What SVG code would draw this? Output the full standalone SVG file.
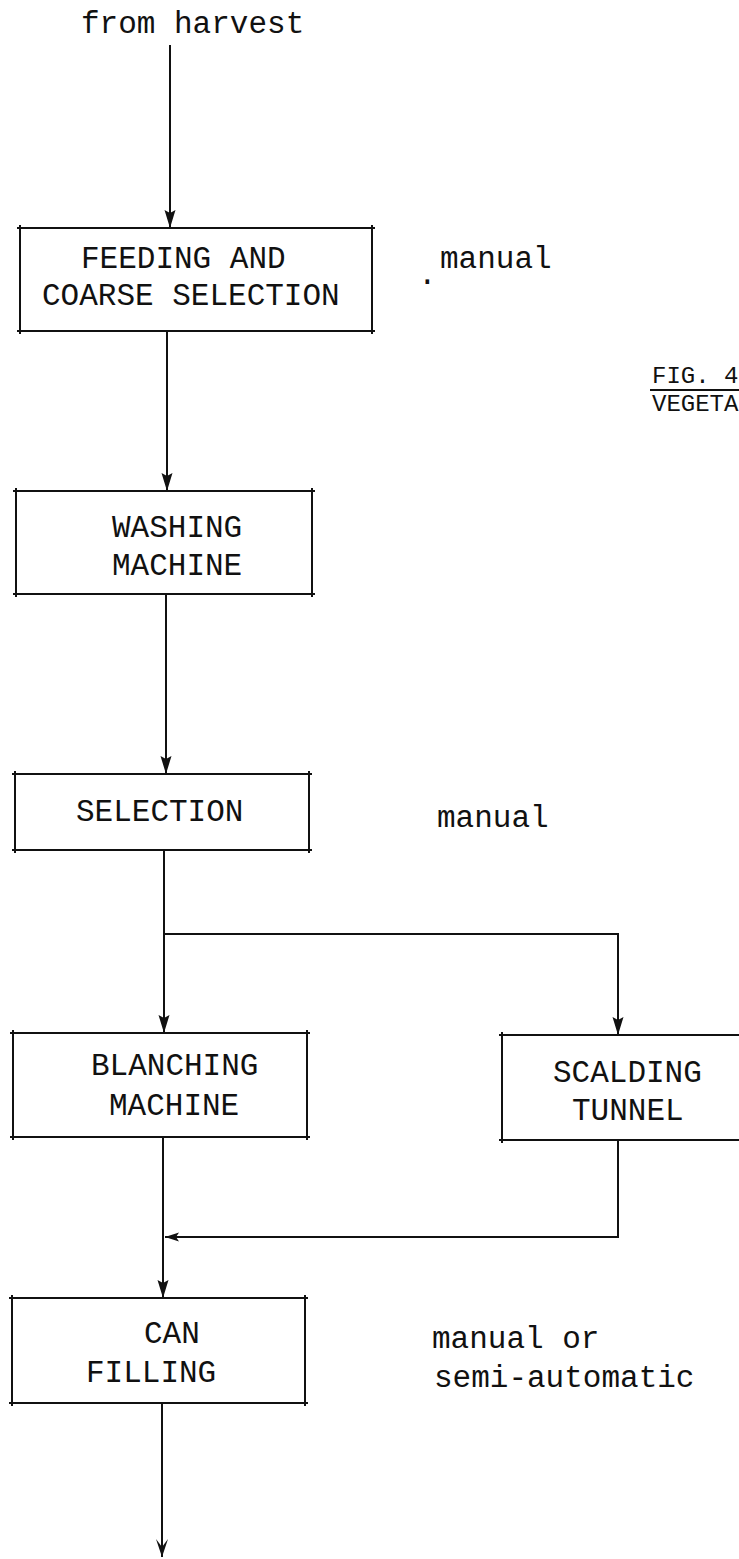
<svg xmlns="http://www.w3.org/2000/svg" width="739" height="1559" viewBox="0 0 739 1559">
<style>
text{font-family:"Liberation Mono","DejaVu Sans Mono",monospace;font-size:31px;fill:#111}
.fig{font-size:24px}
.box{fill:none;stroke:#111;stroke-width:2}
.ln{fill:none;stroke:#111;stroke-width:2}
</style>
<defs>
<marker id="ah" markerUnits="userSpaceOnUse" markerWidth="20" markerHeight="14" viewBox="0 -7 20 14" refX="18" refY="0" orient="auto">
<path d="M0,-5.5 L18,0 L0,5.5 L3,0 z" fill="#111"/>
</marker>
<marker id="ah2" markerUnits="userSpaceOnUse" markerWidth="20" markerHeight="14" viewBox="0 -7 20 14" refX="18" refY="0" orient="auto">
<path d="M0,-6 L18,0 L0,6 L8,0 z" fill="#111"/>
</marker>
<marker id="ah3" markerUnits="userSpaceOnUse" markerWidth="16" markerHeight="12" viewBox="0 -6 16 12" refX="14" refY="0" orient="auto">
<path d="M0,-4.5 L14,0 L0,4.5 L3,0 z" fill="#111"/>
</marker>
</defs>
<rect width="739" height="1559" fill="#fff"/>

<g id="start">
<text x="81" y="33">from harvest</text>
</g>

<g id="connectors">
<path class="ln" d="M170,45 V228" marker-end="url(#ah)"/>
<path class="ln" d="M167,331 V491" marker-end="url(#ah)"/>
<path class="ln" d="M166,594 V774" marker-end="url(#ah)"/>
<path class="ln" d="M164,850 V1033" marker-end="url(#ah)"/>
<path class="ln" d="M164,934 H618 V1035" marker-end="url(#ah)"/>
<path class="ln" d="M163,1137 V1298" marker-end="url(#ah)"/>
<path class="ln" d="M618,1140 V1237 H165" marker-end="url(#ah3)"/>
<path class="ln" d="M162,1403 V1557" marker-end="url(#ah2)"/>
</g>

<g id="feeding">
<path class="box" d="M17,228 H375 M17,331 H375 M20,225 V334 M372,225 V334"/>
<text x="81" y="268">FEEDING AND</text>
<text x="42" y="305">COARSE SELECTION</text>
</g>
<g id="note-manual-1">
<text x="418" y="284">.</text>
<text x="440" y="268">manual</text>
</g>

<g id="fig-title">
<text class="fig" x="652" y="383">FIG. 4</text>
<path class="ln" d="M650,390 H739"/>
<text class="fig" x="652" y="411">VEGETA</text>
</g>

<g id="washing">
<path class="box" d="M13,491 H315 M13,594 H315 M16,488 V597 M312,488 V597"/>
<text x="112" y="537">WASHING</text>
<text x="112" y="575">MACHINE</text>
</g>

<g id="selection">
<path class="box" d="M12,774 H312 M12,850 H312 M15,771 V853 M309,771 V853"/>
<text x="76" y="821">SELECTION</text>
</g>
<g id="note-manual-2">
<text x="437" y="827">manual</text>
</g>

<g id="blanching">
<path class="box" d="M10,1033 H310 M10,1137 H310 M13,1030 V1140 M307,1030 V1140"/>
<text x="91" y="1075">BLANCHING</text>
<text x="109" y="1115">MACHINE</text>
</g>

<g id="scalding">
<path class="box" d="M499,1035 H745 M499,1140 H745 M502,1032 V1143"/>
<text x="553" y="1082">SCALDING</text>
<text x="572" y="1120">TUNNEL</text>
</g>

<g id="canfilling">
<path class="box" d="M9,1298 H308 M9,1403 H308 M12,1295 V1406 M305,1295 V1406"/>
<text x="144" y="1343">CAN</text>
<text x="86" y="1382">FILLING</text>
</g>
<g id="note-manual-3">
<text x="432" y="1348">manual or</text>
<text x="434" y="1387">semi-automatic</text>
</g>
</svg>
